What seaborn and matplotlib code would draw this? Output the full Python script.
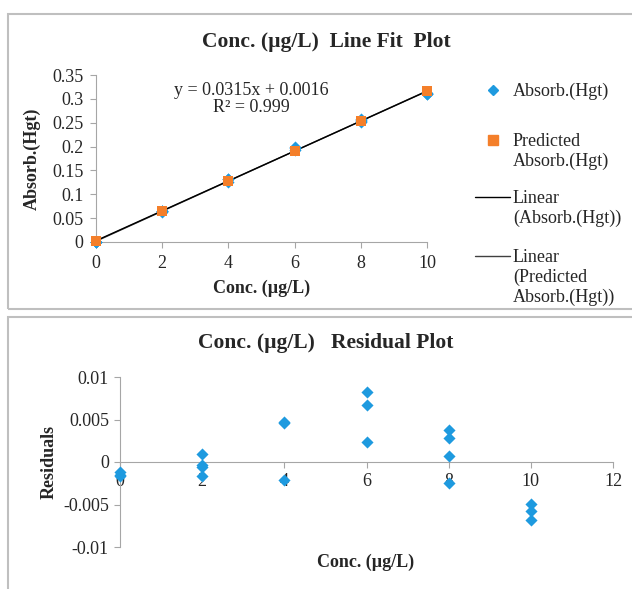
import numpy as np
import pandas as pd
import matplotlib
matplotlib.use("Agg")
import matplotlib.pyplot as plt
from matplotlib.patches import Rectangle
from matplotlib.lines import Line2D
import seaborn as sns

sns.set_style("white")
plt.rcParams['font.family'] = ['Liberation Serif', 'DejaVu Serif']

conc = [0, 0, 0, 2, 2, 2, 2, 4, 4, 4, 6, 6, 6, 8, 8, 8, 8, 10, 10, 10]
absorb = [0.0004, 0.0001, -0.0001, 0.0656, 0.0643, 0.0640, 0.0629,
          0.1322, 0.1323, 0.1255, 0.1988, 0.1973, 0.1930,
          0.2574, 0.2564, 0.2543, 0.2511, 0.3117, 0.3108, 0.3098]
residuals = [-0.0012, -0.0015, -0.0017, 0.0010, -0.0003, -0.0006, -0.0017,
             0.0046, 0.0047, -0.0021, 0.0082, 0.0067, 0.0024,
             0.0038, 0.0028, 0.0007, -0.0025, -0.0049, -0.0058, -0.0068]
pred_conc = [0, 2, 4, 6, 8, 10]
predicted = [0.0016, 0.0646, 0.1276, 0.1906, 0.2536, 0.3166]

top_yticks = [0, 0.05, 0.1, 0.15, 0.2, 0.25, 0.3, 0.35]
top_ylabels = ["0", "0.05", "0.1", "0.15", "0.2", "0.25", "0.3", "0.35"]
res_yticks = [-0.01, -0.005, 0, 0.005, 0.01]
res_ylabels = ["-0.01", "-0.005", "0", "0.005", "0.01"]
legend_labels = ["Absorb.(Hgt)", "Predicted\nAbsorb.(Hgt)", "Linear\n(Absorb.(Hgt))",
                 "Linear\n(Predicted\nAbsorb.(Hgt))"]

blue = "#1E9ADF"
orange = "#F47F2A"
axis_grey = "#a6a6a6"

df = pd.DataFrame({"conc": conc, "absorb": absorb, "res": residuals})
dfp = pd.DataFrame({"conc": pred_conc, "pred": predicted})

W, H = 632, 589
fig = plt.figure(figsize=(W / 100, H / 100), dpi=100)

# chart frames
for y0, y1 in [(14, 309), (317, 595)]:
    fig.patches.append(Rectangle((8 / W, 1 - y1 / H), 700 / W, (y1 - y0) / H,
                                 transform=fig.transFigure, fill=False,
                                 edgecolor="#bfbfbf", lw=1.5))

# ---- line fit plot
ax1 = fig.add_axes([96 / W, 1 - 242 / H, 331 / W, 167 / H])
sns.regplot(data=dfp, x="conc", y="pred", scatter=False, ci=None, truncate=True,
            line_kws={"color": "#404040", "lw": 1}, ax=ax1)
sns.regplot(data=df, x="conc", y="absorb", scatter=False, ci=None, truncate=True,
            line_kws={"color": "black", "lw": 1}, ax=ax1)
sns.scatterplot(data=df, x="conc", y="absorb", marker="D", s=38, color=blue,
                edgecolor=blue, linewidth=0, ax=ax1, clip_on=False, zorder=3)
sns.scatterplot(data=dfp, x="conc", y="pred", marker="s", s=60, color=orange,
                edgecolor=orange, linewidth=0, ax=ax1, clip_on=False, zorder=4)
ax1.set_xlim(0, 10)
ax1.set_ylim(0, 0.35)
ax1.set_xticks([0, 2, 4, 6, 8, 10])
ax1.set_yticks(top_yticks)
ax1.set_yticklabels(top_ylabels)
for s in ["top", "right"]:
    ax1.spines[s].set_visible(False)
for s in ["left", "bottom"]:
    ax1.spines[s].set_color(axis_grey)
ax1.tick_params(axis="both", length=4, color=axis_grey, labelsize=13, pad=5,
                direction="out", left=True, bottom=True)
ax1.set_xlabel("Conc. (µg/L)", fontsize=13, fontweight="bold", labelpad=6)
ax1.set_ylabel("Absorb.(Hgt)", fontsize=13, fontweight="bold", labelpad=8)
ax1.text(4.7, 0.299, "y = 0.0315x + 0.0016\nR² = 0.999", ha="center", va="center",
         fontsize=13, linespacing=1.0)

# legend, Excel style: handle beside the first line of each entry
handles = [
    Line2D([493 / W], [0], marker="D", ls="", color=blue, markersize=5.5),
    Line2D([493 / W], [0], marker="s", ls="", color=orange, markersize=7),
    Line2D([475 / W, 510 / W], [0, 0], color="black", lw=1),
    Line2D([475 / W, 510 / W], [0, 0], color="#404040", lw=1),
]
for h, lab, yc in zip(handles, legend_labels, [90, 140, 197, 256]):
    yf = 1 - yc / H
    h.set_ydata([yf] * len(h.get_xdata()))
    h.set_transform(fig.transFigure)
    fig.add_artist(h)
    fig.text(513 / W, 1 - (yc - 7) / H, lab, ha="left", va="top", fontsize=13)

fig.text(326 / W, 1 - 42 / H, "Conc. (µg/L)  Line Fit  Plot", ha="center", va="center",
         fontsize=15.5, fontweight="bold")

# ---- residual plot
ax2 = fig.add_axes([120 / W, 1 - 547 / H, 493 / W, 170 / H])
sns.scatterplot(data=df, x="conc", y="res", marker="D", s=38, color=blue,
                edgecolor=blue, linewidth=0, ax=ax2, clip_on=False, zorder=3)
ax2.set_xlim(0, 12)
ax2.set_ylim(-0.01, 0.01)
ax2.set_xticks([0, 2, 4, 6, 8, 10, 12])
ax2.set_yticks(res_yticks)
ax2.set_yticklabels(res_ylabels)
ax2.spines["bottom"].set_position(("data", 0))
for s in ["top", "right"]:
    ax2.spines[s].set_visible(False)
for s in ["left", "bottom"]:
    ax2.spines[s].set_color(axis_grey)
ax2.tick_params(axis="both", length=4, color=axis_grey, labelsize=13, pad=4,
                direction="out", left=True, bottom=True)
ax2.set_xlabel("")
ax2.set_ylabel("Residuals", fontsize=13, fontweight="bold", labelpad=4)
fig.text(366 / W, 1 - 562 / H, "Conc. (µg/L)", ha="center", va="center",
         fontsize=13, fontweight="bold")
fig.text(326 / W, 1 - 343 / H, "Conc. (µg/L)   Residual Plot", ha="center", va="center",
         fontsize=15.5, fontweight="bold")

fig.savefig("out.png", dpi=100)
